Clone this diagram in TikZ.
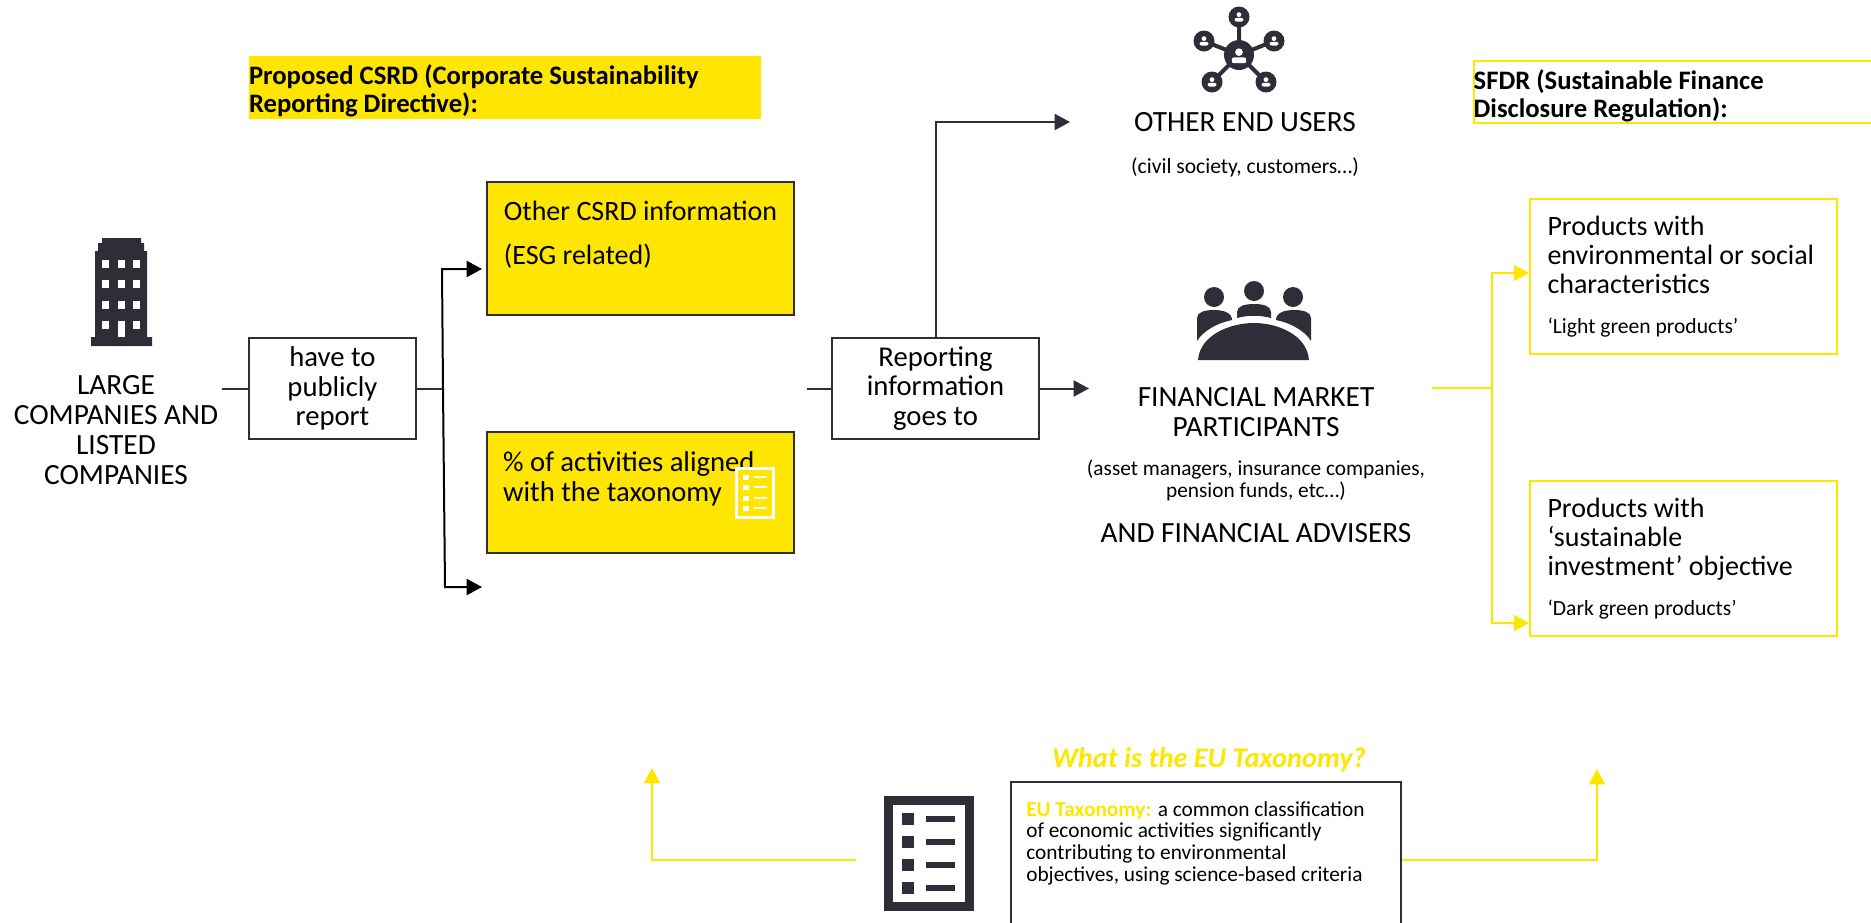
\documentclass[tikz,border=0pt]{standalone}
\usepackage{fontspec}
\setmainfont{Carlito}
\usetikzlibrary{arrows.meta}
\definecolor{eyyellow}{HTML}{FFE600}
\definecolor{eydark}{HTML}{2E2E38}
\newcommand{\bigfont}{\fontsize{21.5}{22}\selectfont}
\newcommand{\capsfont}{\fontsize{22}{22}\selectfont}
\newcommand{\headfont}{\fontsize{20}{21}\selectfont\bfseries}
\newcommand{\smallfont}{\fontsize{16.2}{16.5}\selectfont}
\tikzset{
 whitebox/.style={draw=eydark, line width=1.5pt, fill=white, align=center, font=\bigfont, inner sep=0pt},
 yellowbox/.style={draw=eydark, line width=1.5pt, fill=eyyellow, align=left, font=\bigfont, inner sep=0pt},
 prodbox/.style={draw=eyyellow, line width=1.5pt, align=flush left, font=\fontsize{21}{22}\selectfont, inner sep=0pt, text width=204pt, minimum width=230pt, minimum height=116pt},
 plaintext/.style={align=center, font=\capsfont, inner sep=0pt},
 darkline/.style={draw=eydark, line width=1.5pt},
 darkarrow/.style={darkline, -{Triangle[length=11.5pt, width=12pt]}},
 blackarrow/.style={draw=black, line width=1.5pt, -{Triangle[length=11.5pt, width=12pt]}},
 yellowline/.style={draw=eyyellow, line width=1.5pt},
 yellowarrow/.style={yellowline, -{Triangle[length=11.5pt, width=12pt]}},
 usericon/.pic={
  \fill[white] (0,-3.2) circle (3.2);
  \fill[white, rounded corners=1.5] (-6,6) rectangle (6,1.2);
 }
}
\begin{document}
\begin{tikzpicture}[x=0.75pt, y=-0.75pt]
 \clip (0,0) rectangle (1871,922);

 \node[plaintext, font=\fontsize{22}{22.5}\selectfont] (companies) at (116,430) {LARGE\\COMPANIES AND\\LISTED\\COMPANIES};
 \node[whitebox, minimum width=125pt, minimum height=76pt] (report) at (332.5,388.5) {have to\\publicly\\report};
 \node[yellowbox, font=\fontsize{21}{22}\selectfont, minimum width=230pt, minimum height=100pt] (csrd) at (640.5,248.5) {Other CSRD information\\[11pt](ESG related)\\[2pt]\mbox{}};
 \node[yellowbox, align=flush left, text width=206pt, minimum width=230pt, minimum height=91pt] (taxonomy) at (640.5,492.5) {\% of activities aligned\\[0.5pt]with the taxonomy\\[2pt]\mbox{}};
 \node[whitebox, minimum width=155pt, minimum height=76pt] (goes) at (935.5,388.5) {Reporting\\information\\goes to};
 \node[draw=none, fill=eyyellow, font=\headfont, align=flush left, inner sep=0pt, text width=384pt, minimum height=47pt] (csrdhead) at (505,87.5) {\rule{0pt}{19.5pt}Proposed CSRD (Corporate Sustainability\\Reporting Directive):};
 \node[draw=eyyellow, line width=1.5pt, font=\headfont, align=flush left, inner sep=0pt, text width=305pt, minimum height=46pt] (sfdrhead) at (1677,92) {\rule{0pt}{20pt}SFDR (Sustainable Finance\\Disclosure Regulation):};

 \node[plaintext] (endusers) at (1245,122) {OTHER END USERS};
 \node[plaintext, font=\smallfont] (civil) at (1245,167) {(civil society, customers…)};
 \node[plaintext] (market) at (1256,412) {FINANCIAL MARKET\\PARTICIPANTS};
 \node[plaintext, font=\fontsize{16}{16.5}\selectfont] (managers) at (1256,480) {(asset managers, insurance companies,\\pension funds, etc…)};
 \node[plaintext] (advisers) at (1256,533) {AND FINANCIAL ADVISERS};

 \node[prodbox] (light) at (1683.5,276.5) {Products with\\environmental or social\\characteristics\\[8pt]{\smallfont ‘Light green products’}};
 \node[prodbox] (dark) at (1683.5,558.5) {Products with\\‘sustainable\\investment’ objective\\[8pt]{\smallfont ‘Dark green products’}};

 \node[plaintext, font=\fontsize{21.3}{22}\selectfont\bfseries\itshape, text=eyyellow] (whatis) at (1209,760) {What is the EU Taxonomy?};
 \node[draw=eydark, line width=1.5pt, minimum width=293pt, minimum height=117pt, inner sep=0pt] (eubox) at (1206,860) {};
 \node[anchor=north west, align=left, inner sep=0pt, font=\fontsize{16}{16.4}\selectfont] (eutext) at (1026,801) {\textcolor{eyyellow}{\textbf{EU Taxonomy:}} a common classification\\of economic activities significantly\\contributing to environmental\\objectives, using science-based criteria};

 \coordinate (startA) at (222,388.5);
 \coordinate (busmid) at (443,388.5);
 \coordinate (bustop) at (442,269);
 \coordinate (busbot) at (445,587);
 \coordinate (tipA) at (482,269);
 \coordinate (tipB) at (482,587);
 \coordinate (startB) at (807,388.5);
 \coordinate (upbend) at (935.5,122);
 \coordinate (tipC) at (1070,122);
 \coordinate (tipD) at (1089,388.5);
 \coordinate (startC) at (1432,388);
 \coordinate (ybusmid) at (1492,388);
 \coordinate (ybustop) at (1492,273);
 \coordinate (ybusbot) at (1492,623);
 \coordinate (startD) at (856,860);
 \coordinate (leftbend) at (652,860);
 \coordinate (leftup) at (652,768);
 \coordinate (rightbend) at (1597,860);
 \coordinate (rightup) at (1597,769);

 \draw[darkline] (startA) -- (report.west);
 \draw[darkline] (report.east) -- (busmid);
 \draw[blackarrow] (busmid) -- (bustop) -- (tipA);
 \draw[blackarrow] (busmid) -- (busbot) -- (tipB);
 \draw[darkline] (startB) -- (goes.west);
 \draw[darkarrow] (goes.north) -- (upbend) -- (tipC);
 \draw[darkarrow] (goes.east) -- (tipD);
 \draw[yellowline] (startC) -- (ybusmid);
 \draw[yellowarrow] (ybusmid) -- (ybustop) -- (ybustop -| light.west);
 \draw[yellowarrow] (ybusmid) -- (ybusbot) -- (ybusbot -| dark.west);
 \draw[yellowarrow] (startD) -- (leftbend) -- (leftup);
 \draw[yellowarrow] (eubox.east) -- (rightbend) -- (rightup);

 % building
 \fill[eydark] (91,346) -- (91,337) -- (95,337) -- (95,251) -- (98,251) -- (98,243) -- (102,243) -- (102,238) -- (141,238) -- (141,243) -- (144,243) -- (144,251) -- (147,251) -- (147,337) -- (152,337) -- (152,346) -- cycle;
 \foreach \wx in {102,118,133} \foreach \wy in {260,280,301} \fill[white] (\wx,\wy) rectangle +(7,8);
 \foreach \wx in {102,133} \fill[white] (\wx,321) rectangle +(7,8);
 \fill[white] (118,321) rectangle (125,337);

 % network
 \draw[eydark, line width=3pt] (1239,17) -- (1239,55) (1204,41) -- (1239,55) (1274,41) -- (1239,55) (1212,82) -- (1239,55) (1266,82) -- (1239,55);
 \foreach \nx/\ny in {1239/17, 1204/41, 1274/41, 1212/82, 1266/82} {
  \fill[eydark] (\nx,\ny) circle (10.5);
  \pic[scale=0.75] at (\nx,\ny) {usericon};
 }
 \fill[eydark] (1239,55) circle (15);
 \pic[scale=1.2] at (1239,56) {usericon};

 % meeting
 \fill[eydark] (1214,297) circle (10) (1254,291) circle (10) (1293,297) circle (10);
 \fill[eydark] (1198,360) .. controls (1200,335) and (1230,323) .. (1254,323) .. controls (1278,323) and (1307,335) .. (1309,360) -- cycle;
 \fill[eydark] (1197,341) -- (1197,318) .. controls (1197,312) and (1205,310) .. (1214,310) .. controls (1224,310) and (1232,313) .. (1232,320) .. controls (1217,323) and (1203,331) .. (1197,341) -- cycle;
 \fill[eydark] (1311,341) -- (1311,318) .. controls (1311,312) and (1303,310) .. (1294,310) .. controls (1284,310) and (1276,313) .. (1276,320) .. controls (1291,323) and (1305,331) .. (1311,341) -- cycle;
 \fill[eydark] (1237,318) -- (1237,312) .. controls (1237,306) and (1245,304) .. (1254,304) .. controls (1263,304) and (1271,306) .. (1271,312) -- (1271,318) .. controls (1260,315) and (1248,315) .. (1237,318) -- cycle;

 % list icons
 \draw[white, fill=eyyellow, line width=2.25pt] (736.5,468.5) rectangle (773.5,517.5);
 \foreach \ly in {477,487,498,508} {
  \fill[white] (743,\ly-2.5) rectangle (749,\ly+2.5);
  \fill[white] (754,\ly-1) rectangle (767,\ly+1);
 }
 \draw[eydark, line width=6.75pt] (888.5,800.5) rectangle (969.5,906.5);
 \foreach \ly in {819,842,865,888} {
  \fill[eydark] (902,\ly-6) rectangle (914,\ly+6);
  \fill[eydark] (926,\ly-3) rectangle (955,\ly+3);
 }
\end{tikzpicture}
\end{document}
